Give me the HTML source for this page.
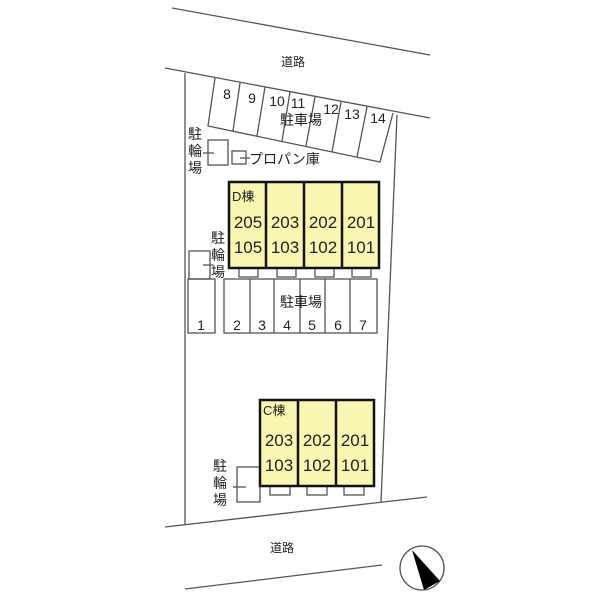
<!DOCTYPE html>
<html><head><meta charset="utf-8"><style>
body{margin:0;background:#fff}
svg{display:block}
text{font-family:"Liberation Sans","Noto Sans CJK JP",sans-serif;fill:#222}
</style></head><body>
<svg width="600" height="600" viewBox="0 0 600 600" xmlns="http://www.w3.org/2000/svg">
<g stroke="#555" stroke-width="1.3" fill="none">
<line x1="172" y1="8" x2="430" y2="55"/>
<line x1="165" y1="68" x2="430" y2="118"/>
<line x1="185" y1="73" x2="185" y2="525"/>
<line x1="397" y1="115" x2="381" y2="502"/>
<line x1="165" y1="527" x2="427" y2="497"/>
<line x1="185" y1="589" x2="382" y2="565"/>
<polyline points="215,78 208,126 380,162 393,113"/>
<line x1="240" y1="83" x2="233" y2="131"/>
<line x1="265" y1="87" x2="257" y2="136"/>
<line x1="290" y1="92" x2="282" y2="141"/>
<line x1="315" y1="97" x2="306" y2="146"/>
<line x1="341" y1="102" x2="332" y2="152"/>
<line x1="367" y1="107" x2="357" y2="157"/>
<rect x="208" y="140" width="20" height="25"/>
<line x1="203" y1="153" x2="214" y2="153"/>
<rect x="232" y="151" width="14" height="13"/>
<line x1="240" y1="158" x2="250" y2="158"/>
<rect x="189" y="251" width="21" height="28"/>
<line x1="203" y1="265" x2="213" y2="265"/>
<rect x="188" y="279" width="27" height="54"/>
<rect x="224" y="279" width="153" height="54"/>
<line x1="250" y1="279" x2="250" y2="333"/>
<line x1="274" y1="279" x2="274" y2="333"/>
<line x1="300" y1="279" x2="300" y2="333"/>
<line x1="325" y1="279" x2="325" y2="333"/>
<line x1="350" y1="279" x2="350" y2="333"/>
<rect x="239" y="268" width="19" height="9"/>
<rect x="277" y="268" width="19" height="9"/>
<rect x="315" y="268" width="19" height="9"/>
<rect x="352" y="268" width="19" height="9"/>
<rect x="270" y="486" width="20" height="9"/>
<rect x="307" y="486" width="20" height="9"/>
<rect x="344" y="486" width="20" height="9"/>
<rect x="237" y="467" width="23" height="35"/>
<line x1="233" y1="487" x2="246" y2="487"/>
</g>
<g stroke="#111" stroke-width="2.5" fill="#f8f6b0">
<rect x="229" y="182" width="150" height="86"/>
<line x1="266" y1="182" x2="266" y2="268"/>
<line x1="304" y1="182" x2="304" y2="268"/>
<line x1="342" y1="182" x2="342" y2="268"/>
<rect x="260" y="400" width="114" height="86"/>
<line x1="298" y1="400" x2="298" y2="486"/>
<line x1="336" y1="400" x2="336" y2="486"/>
</g>
<g font-size="12" text-anchor="middle">
<text x="293" y="66">道路</text>
<text x="282" y="552">道路</text>
</g>
<g font-size="14" text-anchor="middle">
<text x="227" y="99">8</text><text x="252" y="103">9</text><text x="277" y="106">10</text>
<text x="298" y="108">11</text><text x="331" y="114">12</text><text x="352" y="119">13</text><text x="378" y="123">14</text>
<text x="301" y="125">駐車場</text>
<text x="301" y="307">駐車場</text>
<text x="201" y="330">1</text><text x="237" y="330">2</text><text x="262" y="330">3</text><text x="287" y="330">4</text>
<text x="312" y="330">5</text><text x="338" y="330">6</text><text x="363" y="330">7</text>
<text x="195" y="139">駐</text><text x="195" y="156">輪</text><text x="195" y="173">場</text>
<text x="218" y="243">駐</text><text x="218" y="260">輪</text><text x="218" y="277">場</text>
<text x="220" y="471">駐</text><text x="220" y="488">輪</text><text x="220" y="505">場</text>
</g>
<text x="249" y="164" font-size="14">プロパン庫</text>
<g font-size="13"><text x="232" y="201">D棟</text><text x="263" y="415">C棟</text></g>
<g font-size="17" text-anchor="middle">
<text x="248" y="228">205</text><text x="285" y="228">203</text><text x="323" y="228">202</text><text x="361" y="228">201</text>
<text x="248" y="253">105</text><text x="285" y="253">103</text><text x="323" y="253">102</text><text x="361" y="253">101</text>
<text x="279" y="446">203</text><text x="317" y="446">202</text><text x="355" y="446">201</text>
<text x="279" y="471">103</text><text x="317" y="471">102</text><text x="355" y="471">101</text>
</g>
<circle cx="422" cy="568" r="22" fill="none" stroke="#555" stroke-width="1.3"/>
<polygon points="412,550 424,590 440,581" fill="#000"/>
</svg>
</body></html>
